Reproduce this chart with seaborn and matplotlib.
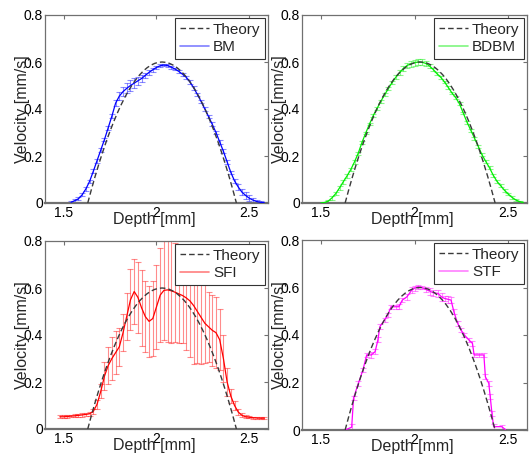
import matplotlib
matplotlib.use("Agg")
import matplotlib.pyplot as plt
import seaborn as sns
import pandas as pd
from matplotlib.lines import Line2D

# ---------------- data ----------------
theory_depth = [1.63, 1.65, 1.67, 1.69, 1.71, 1.73, 1.75, 1.77, 1.79, 1.81, 1.83,
                1.85, 1.87, 1.89, 1.91, 1.93, 1.95, 1.97, 1.99, 2.01, 2.03,
                2.05, 2.07, 2.09, 2.11, 2.13, 2.15, 2.17, 2.19, 2.21, 2.23,
                2.25, 2.27, 2.29, 2.31, 2.33, 2.35, 2.37, 2.39, 2.41, 2.43]
theory_vel = [0.0, 0.0585, 0.114, 0.1665, 0.216, 0.2625, 0.306, 0.3465, 0.384, 0.4185, 0.45,
              0.4785, 0.504, 0.5265, 0.546, 0.5625, 0.576, 0.5865, 0.594, 0.5985, 0.6,
              0.5985, 0.594, 0.5865, 0.576, 0.5625, 0.546, 0.5265, 0.504, 0.4785, 0.45,
              0.4185, 0.384, 0.3465, 0.306, 0.2625, 0.216, 0.1665, 0.114, 0.0585, 0.0]

bm_depth = [1.54, 1.56, 1.58, 1.60, 1.62, 1.64, 1.66, 1.68, 1.70, 1.72,
            1.74, 1.76, 1.78, 1.80, 1.82, 1.84, 1.86, 1.88, 1.90, 1.92,
            1.94, 1.96, 1.98, 2.00, 2.02, 2.04, 2.06, 2.08, 2.10, 2.12,
            2.14, 2.16, 2.18, 2.20, 2.22, 2.24, 2.26, 2.28, 2.30, 2.32,
            2.34, 2.36, 2.38, 2.40, 2.42, 2.44, 2.46, 2.48, 2.50, 2.52,
            2.54, 2.56, 2.58]
bm_vel = [0.003, 0.010, 0.018, 0.035, 0.060, 0.092, 0.135, 0.180, 0.225, 0.270,
          0.320, 0.370, 0.425, 0.455, 0.474, 0.488, 0.500, 0.510, 0.520, 0.530,
          0.543, 0.556, 0.567, 0.577, 0.584, 0.587, 0.585, 0.578, 0.570, 0.560,
          0.548, 0.535, 0.515, 0.490, 0.462, 0.432, 0.400, 0.368, 0.335, 0.300,
          0.260, 0.220, 0.175, 0.130, 0.094, 0.068, 0.046, 0.032, 0.020, 0.012,
          0.006, 0.003, 0.001]
bm_err = [0.004, 0.006, 0.006, 0.006, 0.007, 0.007, 0.008, 0.008, 0.008, 0.008,
          0.008, 0.010, 0.012, 0.016, 0.020, 0.022, 0.022, 0.020, 0.018, 0.015,
          0.012, 0.010, 0.008, 0.007, 0.006, 0.006, 0.006, 0.006, 0.006, 0.006,
          0.007, 0.007, 0.008, 0.008, 0.008, 0.008, 0.008, 0.008, 0.008, 0.008,
          0.008, 0.008, 0.008, 0.008, 0.010, 0.012, 0.014, 0.014, 0.012, 0.010,
          0.008, 0.006, 0.004]

bdbm_depth = [1.50, 1.52, 1.54, 1.56, 1.58, 1.60, 1.62, 1.64, 1.66, 1.68,
              1.70, 1.72, 1.74, 1.76, 1.78, 1.80, 1.82, 1.84, 1.86, 1.88,
              1.90, 1.92, 1.94, 1.96, 1.98, 2.00, 2.02, 2.04, 2.06, 2.08,
              2.10, 2.12, 2.14, 2.16, 2.18, 2.20, 2.22, 2.24, 2.26, 2.28,
              2.30, 2.32, 2.34, 2.36, 2.38, 2.40, 2.42, 2.44, 2.46, 2.48,
              2.50, 2.52, 2.54, 2.56, 2.58]
bdbm_vel = [0.000, 0.002, 0.008, 0.022, 0.040, 0.064, 0.090, 0.115, 0.142, 0.175,
            0.212, 0.258, 0.298, 0.336, 0.372, 0.402, 0.432, 0.460, 0.486, 0.512,
            0.535, 0.555, 0.572, 0.585, 0.592, 0.597, 0.600, 0.599, 0.594, 0.583,
            0.568, 0.550, 0.535, 0.515, 0.492, 0.468, 0.448, 0.422, 0.383, 0.344,
            0.310, 0.276, 0.241, 0.205, 0.177, 0.150, 0.118, 0.092, 0.073, 0.054,
            0.038, 0.024, 0.013, 0.006, 0.002]
bdbm_err = [0.002, 0.003, 0.006, 0.008, 0.008, 0.008, 0.008, 0.007, 0.007, 0.007,
            0.007, 0.007, 0.006, 0.006, 0.006, 0.006, 0.006, 0.006, 0.006, 0.007,
            0.008, 0.009, 0.010, 0.012, 0.012, 0.012, 0.012, 0.012, 0.012, 0.010,
            0.008, 0.007, 0.006, 0.006, 0.006, 0.006, 0.006, 0.006, 0.006, 0.006,
            0.006, 0.006, 0.006, 0.006, 0.006, 0.006, 0.006, 0.006, 0.006, 0.006,
            0.005, 0.005, 0.004, 0.003, 0.002]

sfi_depth = [1.48, 1.50, 1.52, 1.54, 1.56, 1.58, 1.60, 1.62, 1.64, 1.66, 1.68,
             1.70, 1.72, 1.74, 1.76, 1.78, 1.80, 1.82, 1.84, 1.86, 1.88,
             1.90, 1.92, 1.94, 1.96, 1.98, 2.00, 2.02, 2.04, 2.06, 2.08,
             2.10, 2.12, 2.14, 2.16, 2.18, 2.20, 2.22, 2.24, 2.26, 2.28,
             2.30, 2.32, 2.34, 2.36, 2.38, 2.40, 2.42, 2.44, 2.46, 2.48,
             2.50, 2.52, 2.54, 2.56, 2.58]
sfi_vel = [0.052, 0.052, 0.053, 0.055, 0.056, 0.058, 0.060, 0.062, 0.065, 0.075, 0.105,
           0.160, 0.225, 0.270, 0.300, 0.325, 0.350, 0.410, 0.480, 0.550, 0.585,
           0.560, 0.515, 0.478, 0.458, 0.470, 0.520, 0.570, 0.590, 0.592, 0.588,
           0.582, 0.575, 0.568, 0.558, 0.545, 0.525, 0.500, 0.475, 0.450, 0.435,
           0.420, 0.410, 0.380, 0.300, 0.200, 0.140, 0.100, 0.072, 0.058, 0.052,
           0.050, 0.048, 0.047, 0.046, 0.046]
sfi_err = [0.006, 0.006, 0.006, 0.006, 0.006, 0.006, 0.007, 0.007, 0.008, 0.010, 0.020,
           0.030, 0.060, 0.080, 0.090, 0.090, 0.080, 0.080, 0.100, 0.130, 0.140,
           0.150, 0.160, 0.150, 0.150, 0.160, 0.180, 0.200, 0.210, 0.220, 0.220,
           0.210, 0.210, 0.200, 0.220, 0.240, 0.250, 0.220, 0.200, 0.170, 0.150,
           0.150, 0.150, 0.130, 0.100, 0.060, 0.030, 0.020, 0.012, 0.008, 0.006,
           0.005, 0.005, 0.005, 0.005, 0.005]

stf_depth = [1.630, 1.665, 1.675, 1.700, 1.725, 1.745, 1.770, 1.790, 1.805, 1.815,
             1.840, 1.857, 1.875, 1.900, 1.917, 1.935, 1.960, 1.985, 2.000, 2.020,
             2.040, 2.060, 2.080, 2.100, 2.125, 2.145, 2.160, 2.180, 2.195, 2.210,
             2.230, 2.248, 2.266, 2.290, 2.309, 2.318, 2.345, 2.370, 2.378, 2.396,
             2.404, 2.413, 2.422, 2.465, 2.485]
stf_vel = [0.000, 0.012, 0.135, 0.195, 0.253, 0.316, 0.316, 0.330, 0.380, 0.435,
           0.463, 0.484, 0.519, 0.519, 0.519, 0.547, 0.561, 0.589, 0.597, 0.603,
           0.600, 0.592, 0.585, 0.578, 0.575, 0.560, 0.554, 0.550, 0.547, 0.498,
           0.449, 0.421, 0.400, 0.379, 0.365, 0.316, 0.316, 0.316, 0.224, 0.197,
           0.140, 0.070, 0.014, 0.014, 0.002]
stf_err = [0.004, 0.012, 0.010, 0.010, 0.010, 0.010, 0.012, 0.010, 0.010, 0.010,
           0.010, 0.008, 0.008, 0.008, 0.010, 0.010, 0.012, 0.012, 0.010, 0.008,
           0.008, 0.012, 0.015, 0.012, 0.015, 0.015, 0.012, 0.015, 0.012, 0.010,
           0.010, 0.010, 0.010, 0.010, 0.010, 0.010, 0.010, 0.008, 0.010, 0.010,
           0.010, 0.010, 0.012, 0.008, 0.004]

panels = [
    ("BM", "#0000ff", bm_depth, bm_vel, bm_err),
    ("BDBM", "#00ee00", bdbm_depth, bdbm_vel, bdbm_err),
    ("SFI", "#ff0000", sfi_depth, sfi_vel, sfi_err),
    ("STF", "#ff00ff", stf_depth, stf_vel, stf_err),
]

x_ticks = [1.5, 2.0, 2.5]
x_ticklabels = ["1.5", "2", "2.5"]
y_ticks = [0.0, 0.2, 0.4, 0.6, 0.8]
y_ticklabels = ["0", "0.2", "0.4", "0.6", "0.8"]

# ---------------- style ----------------
sns.set_style("white")
plt.rcParams["font.family"] = ["Liberation Sans", "DejaVu Sans"]

W, H = 531, 466
fig = plt.figure(figsize=(W / 100, H / 100), dpi=100)

# axes boxes in pixels: (left, top, right, bottom)
boxes = [(45, 15, 268, 203), (302, 15, 527, 203),
         (45, 241, 268, 429), (302, 240, 527, 430)]

spine_col = "#707070"
for (name, col, dx, vy, ey), (l, t, r, b) in zip(panels, boxes):
    ax = fig.add_axes([l / W, 1 - b / H, (r - l) / W, (b - t) / H])
    ax.errorbar(dx, vy, yerr=ey, fmt="none", ecolor=col, alpha=0.45,
                elinewidth=0.8, capsize=2.4, capthick=0.8, zorder=2)
    df = pd.DataFrame({"depth": dx, "vel": vy})
    sns.lineplot(data=df, x="depth", y="vel", ax=ax, color=col,
                 linewidth=0.9, zorder=3, legend=False)
    tdf = pd.DataFrame({"depth": theory_depth, "vel": theory_vel})
    sns.lineplot(data=tdf, x="depth", y="vel", ax=ax, color="#3a3a3a",
                 linewidth=1.0, linestyle="--", zorder=4, legend=False)
    ax.lines[-1].set_dashes([4, 2.2])

    ax.set_xlim(1.4, 2.6)
    ax.set_ylim(0, 0.8)
    ax.set_xticks(x_ticks)
    ax.set_xticklabels(x_ticklabels)
    ax.set_yticks(y_ticks)
    ax.set_yticklabels(y_ticklabels)
    ax.tick_params(direction="in", length=3, width=0.8, color=spine_col,
                   top=True, right=True, labelsize=10, pad=2.5,
                   labelcolor="black")
    ax.tick_params(axis="y", pad=1.5)
    for s in ax.spines.values():
        s.set_visible(True)
        s.set_color(spine_col)
        s.set_linewidth(0.9)
    ax.spines["bottom"].set_linewidth(1.6)

    ax.set_xlabel("Depth [mm]", fontsize=11.5)
    ax.set_ylabel("Velocity [mm/s]", fontsize=11.5)
    ax.xaxis.set_label_coords(0.49, -0.05)
    ax.yaxis.set_label_coords(-0.068, 0.5)

    handles = [Line2D([], [], color="#3a3a3a", linestyle="--", dashes=[4, 2.2], linewidth=1.0),
               Line2D([], [], color=col, linewidth=1.2, alpha=0.5)]
    leg = ax.legend(handles, ["Theory", name], loc="upper right", fontsize=11,
                    frameon=True, fancybox=False, framealpha=1,
                    edgecolor="#333333", borderaxespad=0.2, handlelength=1.9,
                    handletextpad=0.25, labelspacing=0.25, borderpad=0.3)
    leg.get_frame().set_linewidth(0.8)

fig.savefig("out.png", dpi=100)
